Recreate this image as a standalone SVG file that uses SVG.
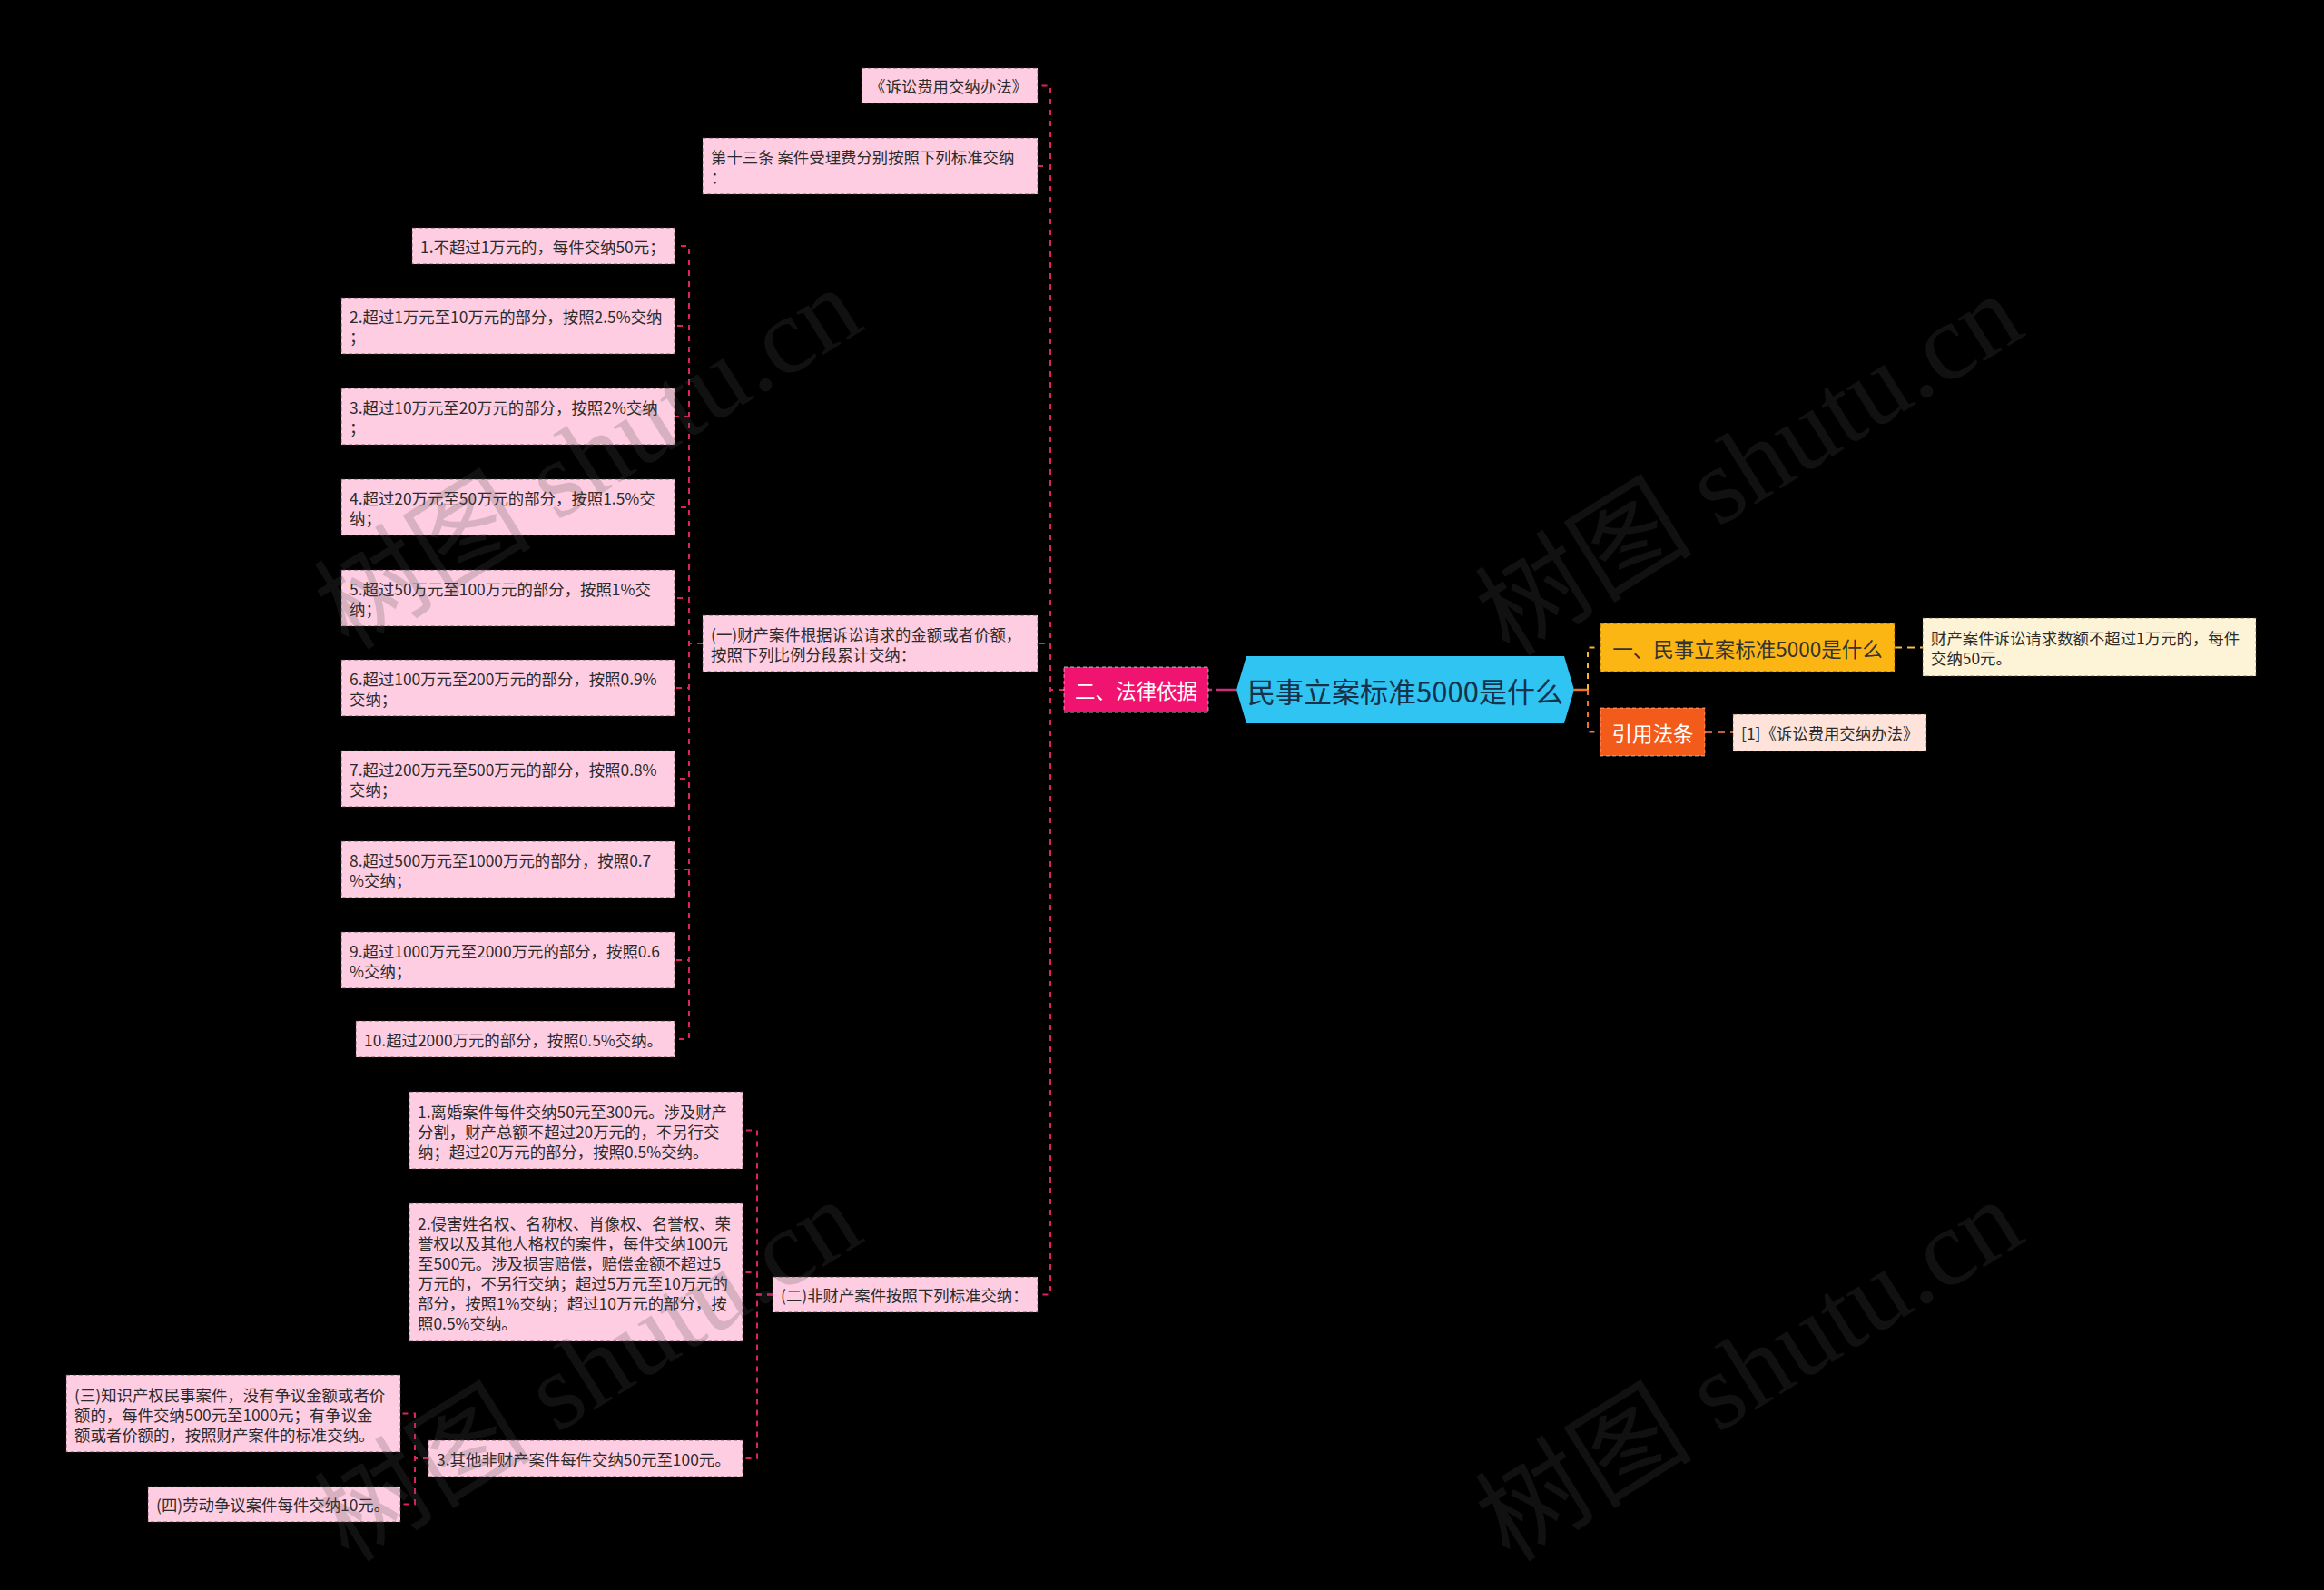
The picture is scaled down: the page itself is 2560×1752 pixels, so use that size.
<svg xmlns="http://www.w3.org/2000/svg" width="2560" height="1752" viewBox="0 0 2560 1752">
<style>
  .bg{fill:#000}
  .leaf{fill:#ffcde2;stroke:rgba(70,50,60,0.45);stroke-width:1.3;stroke-dasharray:4 3}
  .t{font-family:'Noto Sans CJK SC',sans-serif;font-size:17.4px;fill:#2b2b2b;dominant-baseline:central}
  .tm{font-family:'Noto Sans CJK SC',sans-serif;font-size:22.5px;dominant-baseline:central;text-anchor:middle}
  .c{fill:none;stroke:#e0215f;stroke-width:2;stroke-dasharray:6 6}
  .wm{font-family:'Liberation Serif','Noto Sans CJK SC',serif;font-size:120px;fill:#505050;opacity:0.22;text-anchor:middle;dominant-baseline:central}
</style>
<rect class="bg" x="0" y="0" width="2560" height="1752"/>

<g id="connectors">
  <path d="M1362,760H1331" fill="none" stroke="#cc2f78" stroke-width="2.5" stroke-dasharray="22 5"/>
  <path class="c" d="M1172,760H1157V94.5H1143"/>
  <path class="c" d="M1172,760H1157V183H1143"/>
  <path class="c" d="M1172,760H1157V709H1143"/>
  <path class="c" d="M1172,760H1157V1426.5H1143"/>
  <path class="c" d="M774,709H759V271H743"/>
  <path class="c" d="M774,709H759V359H743"/>
  <path class="c" d="M774,709H759V459H743"/>
  <path class="c" d="M774,709H759V559H743"/>
  <path class="c" d="M774,709H759V659H743"/>
  <path class="c" d="M774,709H759V758H743"/>
  <path class="c" d="M774,709H759V858H743"/>
  <path class="c" d="M774,709H759V958H743"/>
  <path class="c" d="M774,709H759V1058H743"/>
  <path class="c" d="M774,709H759V1145H743"/>
  <path class="c" d="M851,1426.5H834V1245.5H818"/>
  <path class="c" d="M851,1426.5H834V1402H818"/>
  <path class="c" d="M851,1426.5H834V1607H818"/>
  <path class="c" d="M472,1607H457V1557.5H441"/>
  <path class="c" d="M472,1607H457V1657.5H441"/>
  <path d="M1734,760H1749" fill="none" stroke="#e8742a" stroke-width="2.5"/>
  <path d="M1749,760V713.5H1763" fill="none" stroke="#f5b730" stroke-width="2" stroke-dasharray="6 6"/>
  <path d="M1749,760V806.5H1763" fill="none" stroke="#e8742a" stroke-width="2" stroke-dasharray="6 6"/>
  <path d="M2087,713.5H2118" fill="none" stroke="#f5c04a" stroke-width="2" stroke-dasharray="8 6"/>
  <path d="M1878,807H1909" fill="none" stroke="#c0603a" stroke-width="2" stroke-dasharray="8 6"/>
</g>

<g id="root">
  <polygon points="1362,760 1373,723 1723,723 1734,760 1723,797 1373,797" fill="#2fc4f2"/>
  <text class="tm" x="1548" y="760" style="font-size:31px;fill:#17324a">民事立案标准5000是什么</text>
</g>

<g id="n-falv">
  <rect x="1172" y="735" width="159" height="50" fill="#f0136f" stroke="rgba(255,255,255,0.45)" stroke-width="1.3" stroke-dasharray="4 3"/>
  <text class="tm" x="1251.5" y="760" fill="#ffffff">二、法律依据</text>
</g>

<g id="n-yi">
  <rect x="1763" y="687" width="324" height="53" fill="#fbb614" stroke="rgba(90,60,0,0.45)" stroke-width="1.3" stroke-dasharray="4 3"/>
  <text class="tm" x="1925" y="713.5" fill="#333333">一、民事立案标准5000是什么</text>
</g>

<g id="n-yi-a">
  <rect x="2118" y="681" width="367" height="64" fill="#fdf3d6" stroke="rgba(90,70,30,0.4)" stroke-width="1.3" stroke-dasharray="4 3"/>
  <text class="t" x="2127"><tspan x="2127" y="702">财产案件诉讼请求数额不超过1万元的，每件</tspan><tspan x="2127" y="724">交纳50元。</tspan></text>
</g>

<g id="n-yinyong">
  <rect x="1763" y="780" width="115" height="53" fill="#f35b1b" stroke="rgba(255,255,255,0.35)" stroke-width="1.3" stroke-dasharray="4 3"/>
  <text class="tm" x="1820.5" y="806.5" fill="#ffffff">引用法条</text>
</g>

<g id="n-yinyong-a">
  <rect x="1909" y="787" width="213" height="41" fill="#fde3d9" stroke="rgba(90,50,40,0.4)" stroke-width="1.3" stroke-dasharray="4 3"/>
  <text class="t" x="1918" y="807.5">[1]《诉讼费用交纳办法》</text>
</g>

<g id="n-banfa">
  <rect class="leaf" x="949" y="75" width="194" height="39"/>
  <text class="t" x="958" y="94.5">《诉讼费用交纳办法》</text>
</g>

<g id="n-13">
  <rect class="leaf" x="774" y="152" width="369" height="62"/>
  <text class="t"><tspan x="783" y="172">第十三条 案件受理费分别按照下列标准交纳</tspan><tspan x="783" y="194">：</tspan></text>
</g>

<g id="n-caichan">
  <rect class="leaf" x="774" y="678" width="369" height="62"/>
  <text class="t"><tspan x="783" y="698">(一)财产案件根据诉讼请求的金额或者价额，</tspan><tspan x="783" y="720">按照下列比例分段累计交纳：</tspan></text>
</g>

<g id="n-c1">
  <rect class="leaf" x="454" y="251" width="289" height="40"/>
  <text class="t" x="463" y="271">1.不超过1万元的，每件交纳50元；</text>
</g>
<g id="n-c2">
  <rect class="leaf" x="376" y="328" width="367" height="62"/>
  <text class="t"><tspan x="385" y="348">2.超过1万元至10万元的部分，按照2.5%交纳</tspan><tspan x="385" y="370">；</tspan></text>
</g>
<g id="n-c3">
  <rect class="leaf" x="376" y="428" width="367" height="62"/>
  <text class="t"><tspan x="385" y="448">3.超过10万元至20万元的部分，按照2%交纳</tspan><tspan x="385" y="470">；</tspan></text>
</g>
<g id="n-c4">
  <rect class="leaf" x="376" y="528" width="367" height="62"/>
  <text class="t"><tspan x="385" y="548">4.超过20万元至50万元的部分，按照1.5%交</tspan><tspan x="385" y="570">纳；</tspan></text>
</g>
<g id="n-c5">
  <rect class="leaf" x="376" y="628" width="367" height="62"/>
  <text class="t"><tspan x="385" y="648">5.超过50万元至100万元的部分，按照1%交</tspan><tspan x="385" y="670">纳；</tspan></text>
</g>
<g id="n-c6">
  <rect class="leaf" x="376" y="727" width="367" height="62"/>
  <text class="t"><tspan x="385" y="747">6.超过100万元至200万元的部分，按照0.9%</tspan><tspan x="385" y="769">交纳；</tspan></text>
</g>
<g id="n-c7">
  <rect class="leaf" x="376" y="827" width="367" height="62"/>
  <text class="t"><tspan x="385" y="847">7.超过200万元至500万元的部分，按照0.8%</tspan><tspan x="385" y="869">交纳；</tspan></text>
</g>
<g id="n-c8">
  <rect class="leaf" x="376" y="927" width="367" height="62"/>
  <text class="t"><tspan x="385" y="947">8.超过500万元至1000万元的部分，按照0.7</tspan><tspan x="385" y="969">%交纳；</tspan></text>
</g>
<g id="n-c9">
  <rect class="leaf" x="376" y="1027" width="367" height="62"/>
  <text class="t"><tspan x="385" y="1047">9.超过1000万元至2000万元的部分，按照0.6</tspan><tspan x="385" y="1069">%交纳；</tspan></text>
</g>
<g id="n-c10">
  <rect class="leaf" x="392" y="1125" width="351" height="40"/>
  <text class="t" x="401" y="1145">10.超过2000万元的部分，按照0.5%交纳。</text>
</g>

<g id="n-feicaichan">
  <rect class="leaf" x="851" y="1407" width="292" height="39"/>
  <text class="t" x="860" y="1426.5">(二)非财产案件按照下列标准交纳：</text>
</g>
<g id="n-d1">
  <rect class="leaf" x="451" y="1203" width="367" height="85"/>
  <text class="t"><tspan x="460" y="1223.5">1.离婚案件每件交纳50元至300元。涉及财产</tspan><tspan x="460" y="1245.5">分割，财产总额不超过20万元的，不另行交</tspan><tspan x="460" y="1267.5">纳；超过20万元的部分，按照0.5%交纳。</tspan></text>
</g>
<g id="n-d2">
  <rect class="leaf" x="451" y="1326" width="367" height="152"/>
  <text class="t"><tspan x="460" y="1347">2.侵害姓名权、名称权、肖像权、名誉权、荣</tspan><tspan x="460" y="1369">誉权以及其他人格权的案件，每件交纳100元</tspan><tspan x="460" y="1391">至500元。涉及损害赔偿，赔偿金额不超过5</tspan><tspan x="460" y="1413">万元的，不另行交纳；超过5万元至10万元的</tspan><tspan x="460" y="1435">部分，按照1%交纳；超过10万元的部分，按</tspan><tspan x="460" y="1457">照0.5%交纳。</tspan></text>
</g>
<g id="n-d3">
  <rect class="leaf" x="472" y="1587" width="346" height="40"/>
  <text class="t" x="481" y="1607">3.其他非财产案件每件交纳50元至100元。</text>
</g>
<g id="n-e1">
  <rect class="leaf" x="73" y="1515" width="368" height="85"/>
  <text class="t"><tspan x="82" y="1535.5">(三)知识产权民事案件，没有争议金额或者价</tspan><tspan x="82" y="1557.5">额的，每件交纳500元至1000元；有争议金</tspan><tspan x="82" y="1579.5">额或者价额的，按照财产案件的标准交纳。</tspan></text>
</g>
<g id="n-e2">
  <rect class="leaf" x="163" y="1638" width="278" height="39"/>
  <text class="t" x="172" y="1657.5">(四)劳动争议案件每件交纳10元。</text>
</g>

<g id="watermarks">
  <text class="wm" transform="translate(648,505) rotate(-32)">树图 shutu.cn</text>
  <text class="wm" transform="translate(1927,512) rotate(-32)">树图 shutu.cn</text>
  <text class="wm" transform="translate(648,1510) rotate(-32)">树图 shutu.cn</text>
  <text class="wm" transform="translate(1927,1510) rotate(-32)">树图 shutu.cn</text>
</g>
</svg>
